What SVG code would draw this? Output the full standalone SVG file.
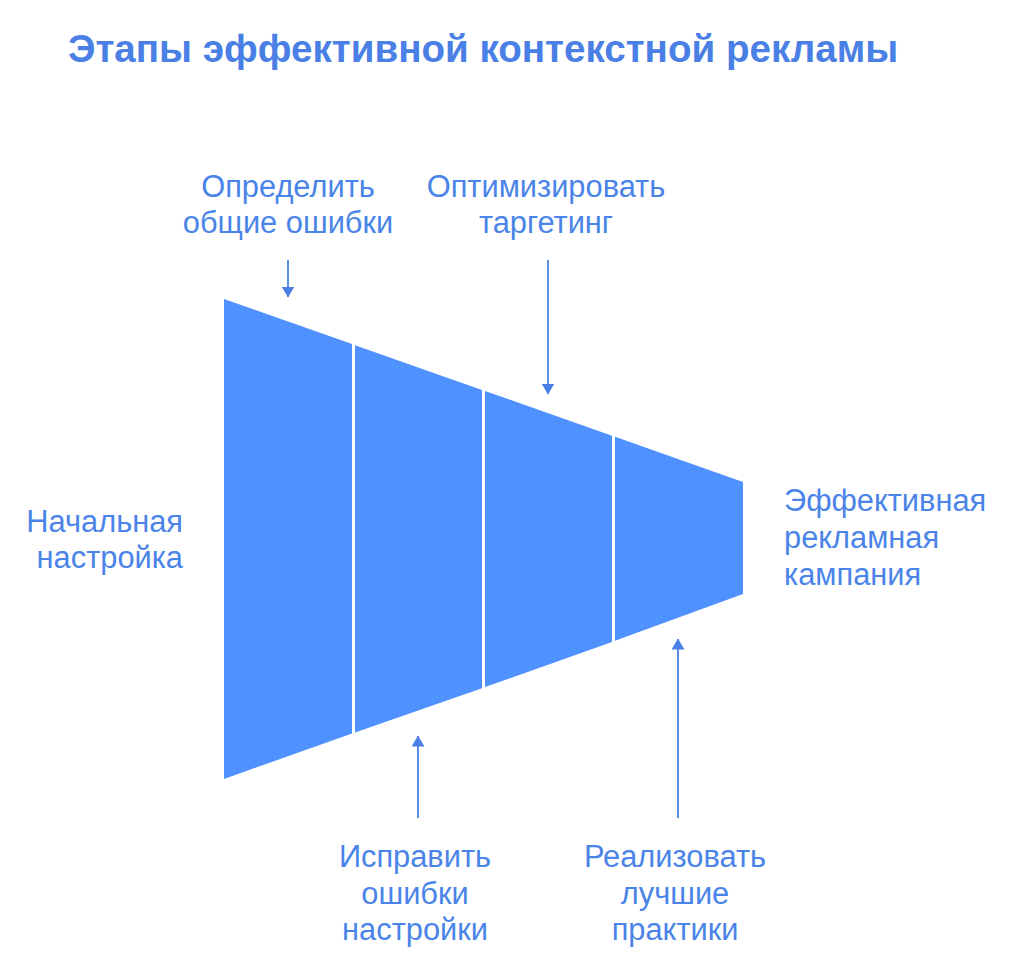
<svg xmlns="http://www.w3.org/2000/svg" width="1024" height="968" viewBox="0 0 1024 968">
<defs>
<style>
.t{font-family:"Liberation Sans",Arial,sans-serif;font-size:30.8px;fill:#4a84e8}
.title{font-family:"Liberation Sans",Arial,sans-serif;font-size:38.6px;font-weight:bold;fill:#4a80e6}
.seg{fill:#4f91ff}
.arr{stroke:#5b8fe8;stroke-width:2;fill:none}
</style>
<marker id="ah" viewBox="0 0 11 13" refX="10.5" refY="6.5" markerWidth="11" markerHeight="13" markerUnits="userSpaceOnUse" orient="auto">
<path d="M0,0 L11,6.5 L0,13 Z" fill="#4a80e6"/>
</marker>
</defs>
<rect width="1024" height="968" fill="#fff"/>
<text class="title" x="68" y="62">Этапы эффективной контекстной рекламы</text>
<g id="funnel">
<polygon class="seg" points="224,299 352,344.1 352,733.4 224,779"/>
<polygon class="seg" points="355,345.2 482,390 482,688.2 355,732.6"/>
<polygon class="seg" points="485,391 612,435.8 612,641.9 485,687.1"/>
<polygon class="seg" points="615,436.8 743,482 743,594 615,640.8"/>
</g>
<g id="connectors">
<line class="arr" x1="288" y1="260" x2="288" y2="297" marker-end="url(#ah)"/>
<line class="arr" x1="548" y1="260" x2="548" y2="394" marker-end="url(#ah)"/>
<line class="arr" x1="418" y1="818" x2="418" y2="736" marker-end="url(#ah)"/>
<line class="arr" x1="678" y1="818" x2="678" y2="639" marker-end="url(#ah)"/>
</g>
<g id="label-start"><text class="t" text-anchor="end"><tspan x="183" y="532">Начальная</tspan><tspan x="183" y="568">настройка</tspan></text></g>
<g id="label-errors"><text class="t" text-anchor="middle"><tspan x="288" y="197">Определить</tspan><tspan x="288" y="233">общие ошибки</tspan></text></g>
<g id="label-targeting"><text class="t" text-anchor="middle"><tspan x="546" y="197">Оптимизировать</tspan><tspan x="546" y="233">таргетинг</tspan></text></g>
<g id="label-fix"><text class="t" text-anchor="middle"><tspan x="415" y="867">Исправить</tspan><tspan x="415" y="904">ошибки</tspan><tspan x="415" y="940">настройки</tspan></text></g>
<g id="label-best"><text class="t" text-anchor="middle"><tspan x="675" y="867">Реализовать</tspan><tspan x="675" y="904">лучшие</tspan><tspan x="675" y="940">практики</tspan></text></g>
<g id="label-end"><text class="t"><tspan x="784" y="511">Эффективная</tspan><tspan x="784" y="548">рекламная</tspan><tspan x="784" y="585">кампания</tspan></text></g>
</svg>
